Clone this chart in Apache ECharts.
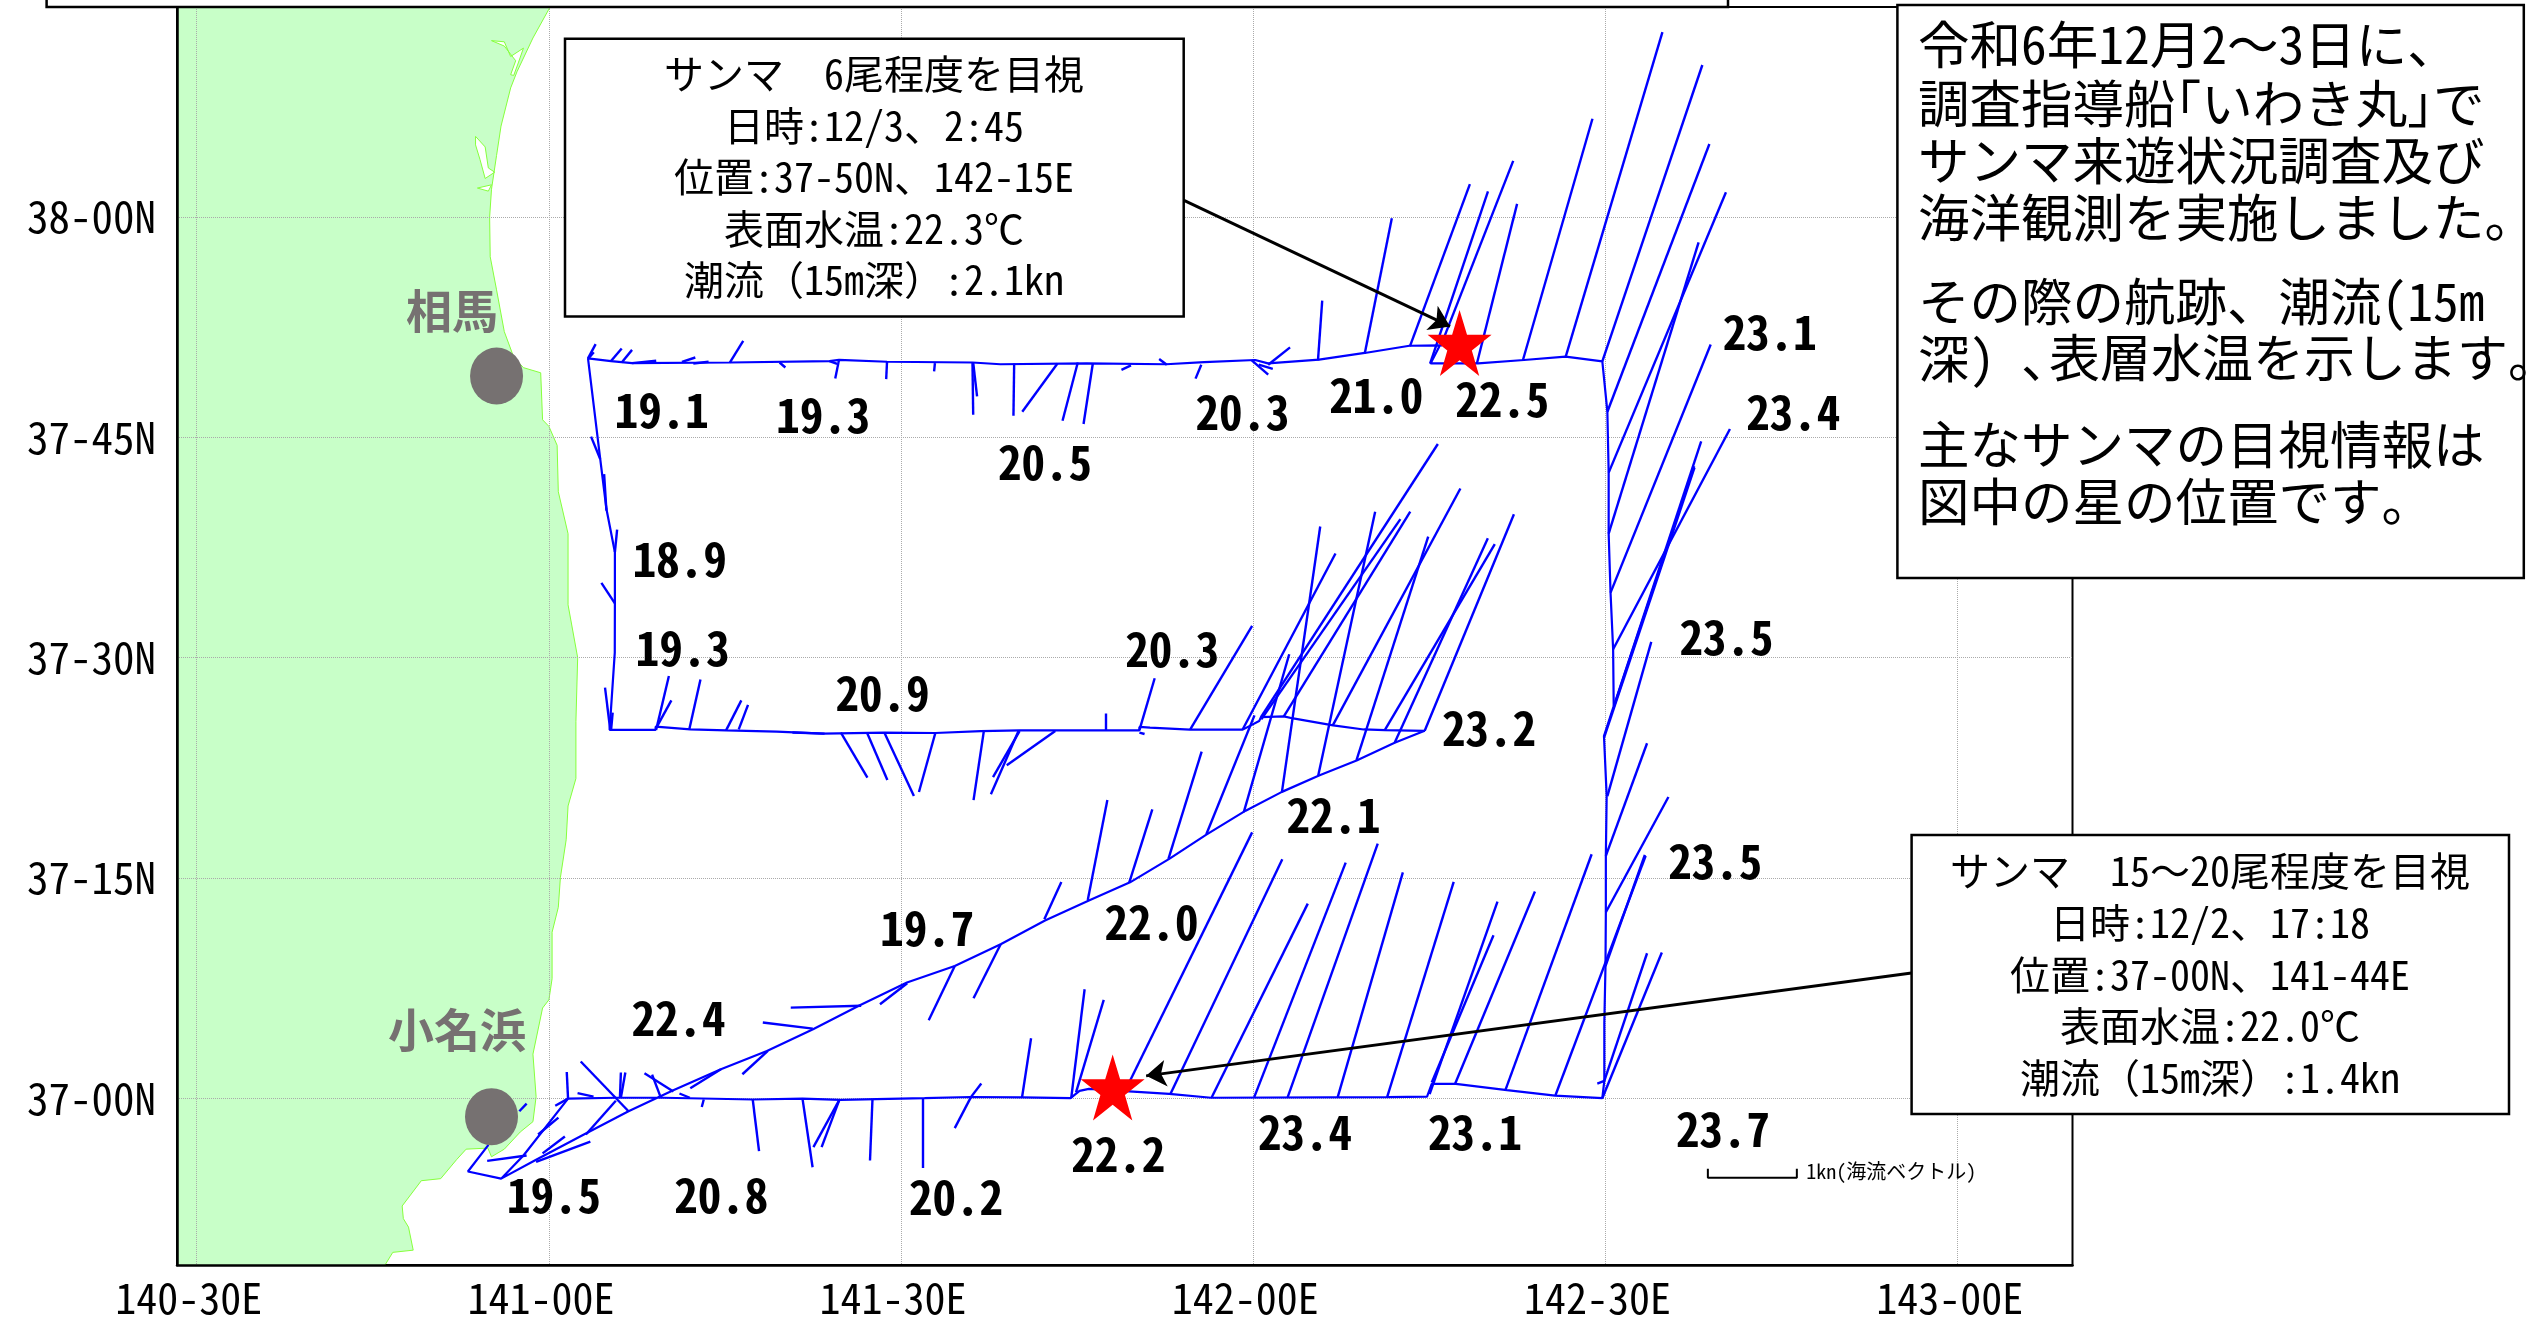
<!DOCTYPE html>
<html><head><meta charset="utf-8">
<style>html,body{margin:0;padding:0;background:#fff}#c{width:2534px;height:1319px}</style>
<script src="https://cdn.jsdelivr.net/npm/echarts@6/dist/echarts.min.js"></script>
</head><body><div id="c"></div>
<script>
// All positions are arc-minutes: longitude east of 141-00E, latitude north of 37-00N.
const xTickValues=[-30,0,30,60,90,120];
const xTickLabels=['140-30E','141-00E','141-30E','142-00E','142-30E','143-00E'];
const yTickValues=[0,15,30,45,60];
const yTickLabels=['37-00N','37-15N','37-30N','37-45N','38-00N'];

const coast=[[0.1,74.31],[-1.36,72.2],[-2.72,69.9],[-3.26,68.8],[-4.08,66.2],[-4.46,64.2],[-4.89,61.9],[-5.05,60],[-5,57.3],[-4.46,55.05],[-3.8,52.2],[-3,50.47],[-2.17,49.75],[-0.7,49.4],[-0.54,46.2],[0,45.75],[0.7,44.46],[0.8,41.3],[1.63,38.44],[1.63,33.6],[2.45,30],[2.3,25.64],[2.3,21.77],[1.63,19.9],[1.47,17.6],[0.98,15.03],[0.8,13],[0.27,11.3],[0.27,8.14],[0,6.7],[-0.54,6.14],[-1.36,3],[-1.09,0.1],[-1.36,-1.6],[-2.44,-2.3],[-3.8,-3.47],[-4.89,-3.99],[-5.2,-3.4],[-7.05,-3.47],[-7.87,-4.19],[-9.22,-5.48],[-10.87,-5.62],[-12.5,-7.34],[-12.4,-8.2],[-11.96,-8.78],[-11.56,-10.35],[-13.3,-10.5],[-13.96,-11.36]];
const landCorners=[[-31.68,-11.36],[-31.68,74.31]];
const lagoons=[
 [[-4.89,72.02],[-3.8,71.94],[-3.26,70.94],[-2.17,71.51],[-2.61,70.5],[-3,69.65],[-3.26,69.7],[-2.83,70.65],[-3.8,71.65]],
 [[-6.25,65.5],[-5.43,64.78],[-5.16,63.35],[-4.62,63.06],[-5.43,62.63],[-5.87,63.92],[-6.25,64.92]],
 [[-6.09,61.98],[-4.89,62.2],[-5.16,61.77]]
];

const track=[[-5.15,-3.18],[-6.9,-4.99],[-4.07,-5.48],[-1.09,-4.19],[2.98,-2.47],[6.78,-0.89],[10.5,0.5],[14.65,1.97],[18.57,3.22],[22.5,4.7],[26.4,6.29],[30.5,7.88],[34.57,9],[38.48,10.48],[42.26,12.1],[45.95,13.45],[49.5,14.7],[52.84,16.3],[56,17.95],[59.35,19.58],[62.44,20.86],[65.6,21.97],[68.8,23],[72.04,24.2],[74.6,25.02],
[71.2,25.07],[69.4,25.11],[66.8,25.39],[63.4,25.86],[62.6,26],[60.65,25.95],[60.5,25.68],[59.1,25.1],[54.6,25.1],[51.2,25.23],[50.3,25.28],[50.3,25.05],[47.3,25.05],[40.1,25.05],[36.8,25],[32.9,24.87],[28.57,24.9],[23.35,24.83],[19.4,24.96],[15.1,25.05],[12.04,25.12],[9.09,25.3],[9.09,25.08],[5.17,25.08],[5.61,30.34],[5.62,33.7],[5.62,37.18],[4.9,40.12],[4.37,43.53],[3.33,50.38],
[5.29,50.2],[7.08,50.06],[15.41,50.1],[23.9,50.2],[24.71,50.28],[28.8,50.15],[36.08,50.1],[38.46,49.98],[45.8,50.04],[52.57,49.98],[55.82,50.12],[60.16,50.27],[61.25,50.04],[65.6,50.3],[69.5,50.75],[73.3,51.24],[75.9,51.27],[75.1,50.04],[79.15,50.04],[83.06,50.27],[86.6,50.5],[89.73,50.18],[90.16,46.75],[90.27,42.6],[90.27,38.44],[90.43,34.43],[90.65,30.57],[90.7,26.7],[89.87,24.66],[90.1,20.6],[90.03,16.5],[90.03,12.66],[90,9],[89.9,5.15],[89.9,1.18],[89.73,0],
[85.7,0.17],[81.6,0.55],[77.25,0.98],[75.2,0.98],[74.8,0.11],[71.4,0.07],[56.4,0.03],[52.84,0.3],[46,0.63],[45.2,0.5],[44.43,0],[40.3,0.05],[35.9,0.08],[32,0],[24.85,-0.11],[21.6,-0.03],[17.36,-0.09],[9.77,0.03],[5.7,0.03],[1.63,-0.03],[-2.17,-3.9],[-4.07,-5.48]];

// each vector: [base lon, base lat, tip lon, tip lat]
const vectorsTopWest=[[3.33,50.38,3.98,51.35],[3.4,50.4,3.82,50.8],[5.29,50.2,6.2,51.06],[6.2,50.1,7.08,50.96],[7.08,50.06,9.14,50.22],[11.33,50.15,12.47,50.44],[12.3,50.03,13.6,50.15],[15.41,50.1,16.55,51.58],[19.65,50.1,20.14,49.76],[24.71,50.28,24.39,49.01],[23.9,50.2,24.55,50],[28.8,50.15,28.73,48.97],[32.88,50.06,32.81,49.49],[36.08,50.1,36.14,46.54],[36.14,50.1,36.47,47.79],[39.63,50.03,39.57,46.47],[43.32,50.03,40.32,46.75],[45.05,50.1,43.75,46.13],[46.33,50.03,45.54,45.91],[48.77,49.6,49.58,49.9],[51.98,50.34,52.63,49.95],[55.57,49.95,55.08,49],[59.87,50.25,61.27,49.27],[60.46,49.95,61.66,49.66],[61.27,49.95,63.13,51.13]];
const vectorsTopEast=[[65.51,50.25,65.87,54.31],[69.49,50.7,71.8,59.93],[73.34,51.2,78.45,62.25],[75.06,50.02,79.99,61.75],[75.95,51.2,82.14,63.83],[79.04,50.02,82.47,60.9],[82.95,50.22,88.89,66.7],[86.6,50.47,94.85,72.6]];
const vectorsEast=[[89.73,50.18,98.25,70.36],[90.16,46.75,98.85,64.98],[90.27,42.6,100.26,61.69],[90.27,38.44,97.93,58.28],[90.43,34.43,98.96,51.33],[90.65,30.57,100.6,45.57],[90.72,26.7,98.15,44.73],[90.72,26.7,97.55,43.05],[89.9,24.6,97.58,42.95],[90.16,20.57,93.9,31.07],[90.03,16.5,93.54,24.17],[90.03,12.66,95.36,20.51],[90,9,93.35,16.57],[89.9,1.18,93.54,9.87],[89.73,0,94.8,9.92],[89.9,1.18,89.3,1]];
const vectorsWestLeg=[[5.62,33.7,4.47,35.09],[5.62,37.18,5.81,38.72],[4.9,40.01,4.7,42.5],[4.37,43.53,3.59,45.05],[5.22,25.12,4.78,27.96],[5.3,25.12,5.43,26.25]];
const vectorsMiddle=[[9.13,25.08,10.22,28.75],[9.2,25.3,10.43,27.09],[11.96,25.12,12.91,28.52],[15.09,25.05,16.39,27.09],[16.17,25.12,16.96,26.78],[23.48,24.83,20.74,24.9],[24.87,24.9,27.13,21.83],[27.09,24.9,28.83,21.67],[28.57,24.9,31.09,20.58],[32.91,24.85,31.52,20.85],[37.04,24.96,36.17,20.3],[40.09,25,37.83,21.87],[40,25,37.65,20.7],[43.13,25,39,22.67],[47.39,25.05,47.39,26.2],[50.3,25.07,51.6,28.6],[50.3,24.9,50.74,24.8]];
const vectorsMiddleEast=[[54.63,25.11,59.9,32.16],[59.09,25.11,67,37.09],[60.65,25.95,75.72,44.55],[60.68,25.8,72.53,39.43],[62.6,26,73.37,39.95],[66.77,25.39,77.64,41.52],[71.2,25.07,80.57,37.73],[74.6,25.02,82.2,39.77]];
const vectorsDiagonal=[[18.65,3.22,16.48,1.63],[14.65,1.97,12.04,0.68],[22.48,4.74,18.22,5.15],[26.6,6.29,20.6,6.17],[30.52,7.83,28.2,6.4],[34.57,9,32.35,5.31],[38.48,10.48,36.17,6.81],[42.2,12.19,43.65,14.73],[45.9,13.5,47.57,20.3],[49.43,14.68,51.4,19.67],[52.77,16.3,55.6,23.6],[56,17.97,60.1,26.07],[59.19,19.48,63.06,30.23],[62.44,20.86,65.7,38.93],[65.53,21.98,70.38,39.93],[68.79,23.02,74.9,38.25],[72.04,24.2,79.98,38.14]];
const vectorsSouth=[[40.3,0.05,41.07,4.08],[44.49,0,45.63,7.42],[44.9,0.39,47.26,6.69],[49.05,0.45,59.9,18.1],[52.93,0.27,62.47,16.27],[56.46,0.07,64.64,13.25],[60.08,0.07,67.87,16.04],[62.93,0.07,70.6,17.34],[67.19,0.07,72.74,15.38],[71.4,0.07,77.07,14.73],[75.02,0.27,80.8,13.39],[75.2,1.07,80.46,11.1],[77.2,1,83.99,14.07],[81.48,0.57,88.82,16.61],[85.74,0.2,93.42,16.5]];
const vectorsSouthWest=[[35.96,0.09,36.83,1],[35.96,0.09,34.57,-2.04],[31.85,0,31.85,-4.76],[27.56,-0.09,27.35,-4.24],[24.74,-0.11,23.23,-3.33],[24.74,-0.11,22.53,-3.33],[21.6,-0.03,22.46,-4.7],[17.36,-0.09,17.9,-3.61],[13.19,-0.09,13.02,-0.6],[12,0.03,11.12,0.32],[9.5,0.11,8.79,1.6],[10.6,0.46,8.14,1.7],[6.78,-0.89,2.71,2.5],[6.13,0.03,6.51,1.75],[6.05,0.03,6.13,1.75],[5.7,-0.17,3.15,-2.47],[3.8,0.11,2.44,0.34],[1.63,-0.03,1.52,1.78],[1.63,-0.03,0.54,-0.52],[0.81,-1.32,-0.92,-2.47],[-1.9,-3.9,-5.26,-4.27],[-0.54,-3.76,1.36,-2.61],[-1.09,-4.33,3.53,-2.95],[-2.52,-0.89,-1.9,-0.37]];

const tempLon=[9.62,23.37,11.14,11.39,28.42,42.26,59.08,70.47,81.2,104,106,100.3,53.1,80.08,66.84,51.32,99.35,64.4,78.88,100,48.5,34.67,14.67,0.43,11.03,32.23];
const tempLat=[46.89,46.52,36.72,30.68,27.59,43.31,46.74,47.89,47.6,52.15,46.69,31.43,30.57,25.2,19.27,12.02,16.17,-2.32,-2.32,-2.12,-3.84,-6.77,-6.62,-6.62,5.42,11.59];
const tempVal=['19.1','19.3','18.9','19.3','20.9','20.5','20.3','21.0','22.5','23.1','23.4','23.5','20.3','23.2','22.1','22.0','23.5','23.4','23.1','23.7','22.2','20.2','20.8','19.5','22.4','19.7'];

const portNames=['相馬','小名浜'];
const portLabelPos=[[-8.26,53.67],[-7.83,4.7]];
const portPos=[[-4.46,49.18],[-4.89,-1.26]];
const sightings=[[77.57,51.43],[48.02,0.73]];
const arrows=[[[53.87,61.22],[76.76,52.56]],[[116.07,8.53],[50.87,1.52]]];
const scaleBar=[[98.72,-4.8],[98.72,-5.41],[106.3,-5.41],[106.3,-4.8]];
const scaleLabelPos=[[107.1,-5]];
const scaleLabel='1kn(海流ベクトル)';

const box1Lines=['サンマ  6尾程度を目視','日時:12/3、2:45','位置:37-50N、142-15E','表面水温:22.3℃','潮流（15m深）:2.1kn'];
const box2Lines=['サンマ  15〜20尾程度を目視','日時:12/2、17:18','位置:37-00N、141-44E','表面水温:22.0℃','潮流（15m深）:1.4kn'];
const introLines=['令和6年12月2〜3日に、','調査指導船｢いわき丸｣で','サンマ来遊状況調査及び','海洋観測を実施しました。','その際の航跡、潮流(15m','深) 、','主なサンマの目視情報は','図中の星の位置です。'];
const introLine6b='表層水温を示します。';

const FF='"Noto Sans Mono CJK JP","Noto Sans CJK JP","DejaVu Sans Mono",monospace';
const BLUE='#0000FF', GREEN='#86FF3C', GREY='#767171';
const toLines=a=>a.map(v=>({coords:[[v[0],v[1]],[v[2],v[3]]]}));
const allVectors=[].concat(vectorsTopWest,vectorsTopEast,vectorsEast,vectorsWestLeg,vectorsMiddle,vectorsMiddleEast,vectorsDiagonal,vectorsSouth,vectorsSouthWest);

function rect(x,y,w,h){return {type:'rect',z:100,shape:{x,y,width:w,height:h},style:{fill:'#fff',stroke:'#000',lineWidth:2.5}};}
function txt(t,x,y,size,align){return {type:'text',z:101,x,y,style:{text:t,fill:'#000',font:size+'px '+FF,align:align||'center',verticalAlign:'middle'}};}
const graphics=[rect(46.6,-20,1681.4,27),rect(565,38.7,618.7,277.8),rect(1911.6,835,597.4,279),rect(1897.4,5,626.4,573)];
[73.7,125.5,177,229,280].forEach((y,i)=>graphics.push(txt(box1Lines[i],874,y,40)));
[871,923,975,1026,1077.5].forEach((y,i)=>graphics.push(txt(box2Lines[i],2210,y,40)));
[44,103,160,217,301,358,444,501].forEach((y,i)=>graphics.push(txt(introLines[i],1918,y,51.5,'left')));
graphics.push(txt(introLine6b,2049,358,51,'left'));

const textSeries=(z,data,size,weight,fill,labelAt,align)=>({type:'custom',z,coordinateSystem:'cartesian2d',silent:true,data,
 renderItem:(p,api)=>{const c=api.coord([api.value(0),api.value(1)]);
  return {type:'text',style:{x:c[0],y:c[1],text:labelAt(p.dataIndex),fill,font:weight+' '+size+'px '+FF,align,verticalAlign:'middle'}};}});

const option={
 animation:false,
 backgroundColor:'#fff',
 graphic:{elements:graphics},
 grid:{left:177,top:7,right:461.5,bottom:53,show:true,borderColor:'#000',borderWidth:2,backgroundColor:'#fff',containLabel:false},
 xAxis:{type:'value',min:-31.68,max:129.78,z:2,
  axisLine:{show:true,onZero:false,lineStyle:{color:'#000',width:2.5}},
  axisTick:{show:false,customValues:xTickValues},
  axisLabel:{customValues:xTickValues,margin:12,padding:[0,16,0,0],color:'#000',fontSize:42,fontFamily:FF,
   formatter:v=>xTickLabels[xTickValues.indexOf(v)]},
  splitLine:{show:true,lineStyle:{color:'#aaa',width:1,type:[1,1]}}},
 yAxis:{type:'value',min:-11.36,max:74.31,z:2,
  axisLine:{show:true,onZero:false,lineStyle:{color:'#000',width:2.5}},
  axisTick:{show:false,customValues:yTickValues},
  axisLabel:{customValues:yTickValues,margin:21,color:'#000',fontSize:43,fontFamily:FF,
   formatter:v=>yTickLabels[yTickValues.indexOf(v)]},
  splitLine:{show:true,lineStyle:{color:'#aaa',width:1,type:[1,1]}}},
 series:[
  {type:'custom',z:1,coordinateSystem:'cartesian2d',silent:true,clip:true,data:[[0,0]],
   renderItem:(p,api)=>({type:'polygon',shape:{points:coast.concat(landCorners).map(c=>api.coord(c))},style:{fill:'#C8FFC8',stroke:null}})},
  {type:'line',z:1,data:coast,showSymbol:false,symbol:'none',silent:true,lineStyle:{color:GREEN,width:1}},
  {type:'custom',z:1,coordinateSystem:'cartesian2d',silent:true,data:lagoons.map((l,i)=>[i,0]),
   renderItem:(p,api)=>({type:'polygon',shape:{points:lagoons[p.dataIndex].map(c=>api.coord(c))},style:{fill:'#fff',stroke:GREEN,lineWidth:1}})},
  {type:'line',z:3,data:track,showSymbol:false,symbol:'none',silent:true,lineStyle:{color:BLUE,width:2.2}},
  {type:'lines',z:3,coordinateSystem:'cartesian2d',silent:true,data:toLines(allVectors),lineStyle:{color:BLUE,width:2.4,opacity:1}},
  {type:'scatter',z:4,data:portPos,symbol:'circle',symbolSize:[53,57],silent:true,itemStyle:{color:GREY,opacity:1}},
  {type:'scatter',z:5,data:sightings,silent:true,symbol:'path://M50,0 L61.2,35 98,35 68.4,57 79.5,93 50,71 20.5,93 31.6,57 2,35 38.8,35 Z',symbolSize:[64,66],itemStyle:{color:'#FF0000',opacity:1}},
  {type:'lines',z:6,coordinateSystem:'cartesian2d',silent:true,data:arrows.map(a=>({coords:a})),symbol:['none','arrow'],symbolSize:20,lineStyle:{color:'#000',width:3,opacity:1}},
  {type:'line',z:3,data:scaleBar,showSymbol:false,symbol:'none',silent:true,lineStyle:{color:'#000',width:2}},
  textSeries(7,tempVal.map((t,i)=>[tempLon[i],tempLat[i]]),47,'bold','#000',i=>tempVal[i],'center'),
  textSeries(7,portLabelPos,46,'bold',GREY,i=>portNames[i],'center'),
  textSeries(7,scaleLabelPos,20,'normal','#000',()=>scaleLabel,'left')
 ]
};
const chart=echarts.init(document.getElementById('c'),null,{renderer:'canvas',width:2534,height:1319});
chart.setOption(option);
</script></body></html>
